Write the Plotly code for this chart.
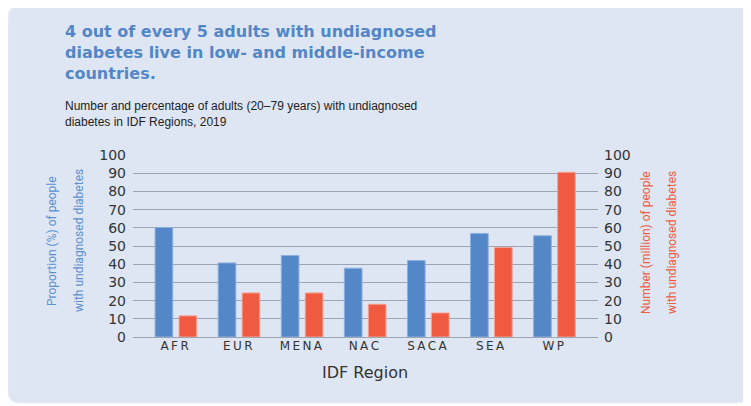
import plotly.graph_objects as go

regions = ["AFR", "EUR", "MENA", "NAC", "SACA", "SEA", "WP"]
proportion_pct = [60.2, 40.7, 44.8, 37.8, 42.0, 56.9, 55.6]
number_million = [11.6, 24.2, 24.2, 18.0, 13.2, 49.2, 90.5]
y_ticks = [0, 10, 20, 30, 40, 50, 60, 70, 80, 90, 100]

title_text = "4 out of every 5 adults with undiagnosed<br>diabetes live in low- and middle-income<br>countries."
subtitle_text = "Number and percentage of adults (20–79 years) with undiagnosed<br>diabetes in IDF Regions, 2019"
left_title = ["Proportion (%) of people", "with undiagnosed diabetes"]
right_title = ["Number (million) of people", "with undiagnosed diabetes"]
x_title = "IDF Region"

# page body has an 8px default margin: work in page pixels, convert to figure pixels
OFF = 8
W, H = 751 - OFF, 406 - OFF
L, R, T, B = 133 - OFF, 598 - OFF, 155 - OFF, 337 - OFF


def px(x):
    return (x - OFF - L) / (R - L)


def py(y):
    return (B - (y - OFF)) / (B - T)


BLUE = "#5387C7"
RED = "#EF5A40"
PANEL = "#DFE6F3"
TICKFONT = dict(family="DejaVu Sans, Verdana, sans-serif", size=14, color="#333333")
NARROW = "Roboto, Liberation Sans, Arial, sans-serif"
THIN = "\u2009"
tick_text = [THIN.join(r) for r in regions]

fig = go.Figure()
fig.add_trace(go.Bar(
    x=regions, y=proportion_pct, yaxis="y", name="Proportion",
    marker=dict(color=BLUE, line=dict(color="#8EB0DE", width=1)),
    width=0.28, offset=-0.31,
))
fig.add_trace(go.Bar(
    x=regions, y=number_million, yaxis="y2", name="Number",
    marker=dict(color=RED, line=dict(color="#F5A293", width=1)),
    width=0.28, offset=0.07,
))

# rounded panel (page coords)
x0, x1, y0, y1 = 8, 749, 6, 403
r = 12
path = (
    f"M {px(x0 + r)},{py(y0)} L {px(x1 - r)},{py(y0)} "
    f"Q {px(x1)},{py(y0)} {px(x1)},{py(y0 + r)} "
    f"L {px(x1)},{py(y1 - r)} Q {px(x1)},{py(y1)} {px(x1 - r)},{py(y1)} "
    f"L {px(x0 + r)},{py(y1)} Q {px(x0)},{py(y1)} {px(x0)},{py(y1 - r)} "
    f"L {px(x0)},{py(y0 + r)} Q {px(x0)},{py(y0)} {px(x0 + r)},{py(y0)} Z"
)
shapes = [dict(type="path", path=path, xref="paper", yref="paper",
               fillcolor=PANEL, line=dict(color="#E8ECF2", width=1), layer="below")]

annotations = [
    dict(x=px(63), y=py(20), xref="paper", yref="paper", xanchor="left", yanchor="top",
         text="<b>" + title_text + "</b>", showarrow=False, align="left",
         font=dict(family="DejaVu Sans, Verdana, sans-serif", size=16, color="#5386C6")),
    dict(x=px(63), y=py(97), xref="paper", yref="paper", xanchor="left", yanchor="top",
         text=subtitle_text, showarrow=False, align="left",
         font=dict(family="Liberation Sans, Arial, sans-serif", size=12, color="#222222")),
    dict(x=px(365), y=py(372), xref="paper", yref="paper", xanchor="center", yanchor="middle",
         text=x_title, showarrow=False,
         font=dict(family="DejaVu Sans, Verdana, sans-serif", size=16, color="#333333")),
]
for xp, t in zip([52, 79], left_title):
    annotations.append(dict(x=px(xp), y=py(241), xref="paper", yref="paper",
                            xanchor="center", yanchor="middle", textangle=-90,
                            text=t, showarrow=False,
                            font=dict(family=NARROW, size=12, color="#5B8FD0")))
for xp, t in zip([646, 672], right_title):
    annotations.append(dict(x=px(xp), y=py(243), xref="paper", yref="paper",
                            xanchor="center", yanchor="middle", textangle=-90,
                            text=t, showarrow=False,
                            font=dict(family=NARROW, size=12, color="#EF5A40")))

fig.update_layout(
    width=W, height=H,
    margin=dict(l=L, r=W - R, t=T, b=H - B, pad=0),
    paper_bgcolor="white", plot_bgcolor="rgba(0,0,0,0)",
    showlegend=False, barmode="overlay",
    shapes=shapes, annotations=annotations,
    xaxis=dict(range=[-0.66, 6.71], tickvals=regions, ticktext=tick_text,
               tickfont=dict(family="DejaVu Sans, Verdana, sans-serif", size=12, color="#333333"),
               showgrid=False, zeroline=False, showline=False, ticks="", fixedrange=True),
    yaxis=dict(range=[0, 100], tickvals=y_ticks, tickfont=TICKFONT,
               showgrid=True, gridcolor="#9DA5B4", gridwidth=1.2,
               zeroline=True, zerolinecolor="#9DA5B4", zerolinewidth=1.2,
               showline=False, ticks="", ticklabelstandoff=6),
    yaxis2=dict(range=[0, 100], tickvals=y_ticks, tickfont=TICKFONT, overlaying="y", side="right",
                showgrid=False, zeroline=False, showline=False, ticks="", ticklabelstandoff=5),
)

fig.write_html("out.html")
